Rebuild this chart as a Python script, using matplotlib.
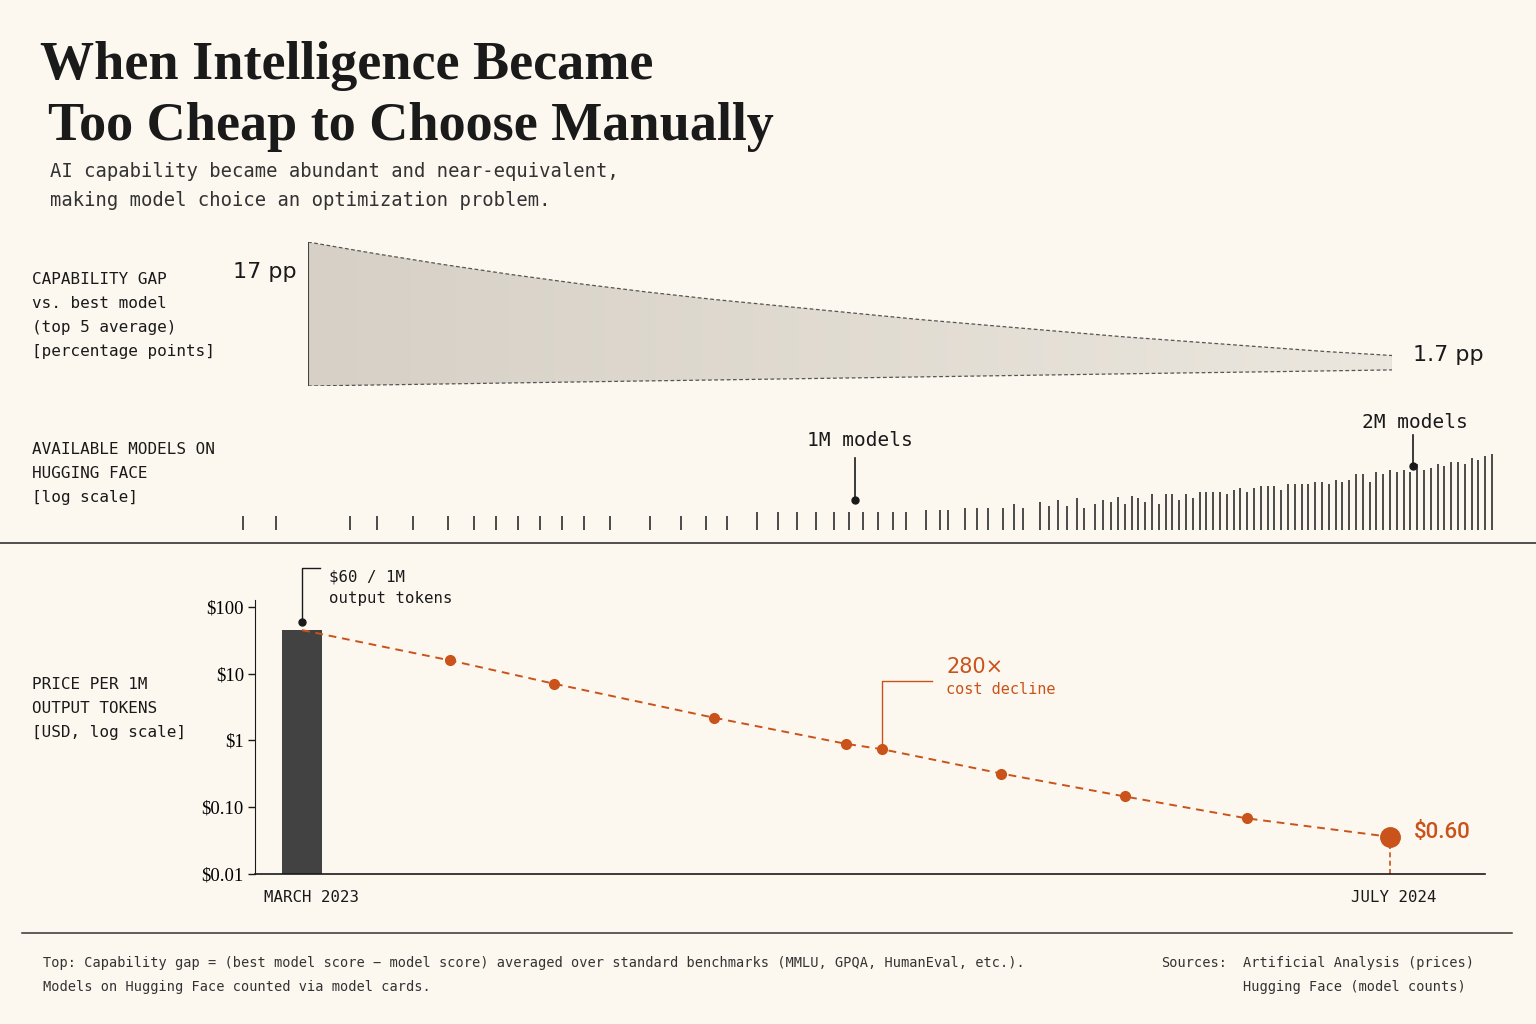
import numpy as np
import matplotlib
matplotlib.use("Agg")
import matplotlib.pyplot as plt
from matplotlib.patches import Polygon
from matplotlib.colors import LinearSegmentedColormap

# ---------------- data ----------------
gap_months = [0,1,2,3,4,5,6,7,8,9,10,11,12,13,14,15,16]
gap_pp = [17,15.5,14.1,12.8,11.6,10.5,9.5,8.6,7.7,6.8,6.0,5.2,4.4,3.7,3.0,2.3,1.7]
gap_lower = [0,0.12,0.24,0.36,0.48,0.6,0.71,0.83,0.95,1.07,1.19,1.31,1.43,1.55,1.66,1.78,1.9]

hf_months = [-0.87,-0.38,0.71,1.10,1.63,2.15,2.53,2.85,3.18,3.50,3.82,4.15,4.53,5.12,5.57,5.94,6.25,
             6.69,7.0,7.28,7.56,7.82,8.04,8.25,8.47,8.69,8.88,9.18,9.38,9.5,9.75,9.93,10.09,10.31,
             10.47,10.6,10.85,10.99,11.12,11.25,11.4,11.5,11.66,11.78,11.9,
             12.0,12.1,12.2,12.3,12.4,12.5,12.6,12.7,12.8,12.9,13.0,13.1,13.2,13.3,13.4,13.5,13.6,13.7,
             13.8,13.9,14.0,14.1,14.2,14.3,14.4,14.5,14.6,14.7,14.8,14.9,15.0,15.1,15.2,15.3,15.4,15.5,
             15.6,15.7,15.8,15.9,16.0,16.1,16.2,16.3,16.4,16.5,16.6,16.7,16.8,16.9,17.0,17.1,17.2,17.3,
             17.4,17.5]
hf_heights = [14]*17 + [18]*10 + [20,20,20,22,22,22,22] + [26,22,28,24,30,24,32,22,26,30,28] + \
    [33,26,34,32,28,36,26,36,36,30, 36,32,38,38,38,38,36,40,42,38,
     42,44,44,44,40,46,46,46,46,48, 48,46,50,48,50,56,56,48,58,56,
     60,58,60,58,66,60,62,66,64,68, 68,66,72,70,74,76]
hf_1m_month, hf_2m_month = 8.13, 16.34

price_months = [0, 2.18, 3.7, 6.06, 8.0, 8.53, 10.28, 12.1, 13.9, 16]
price_usd = [45, 15.8, 7.1, 2.19, 0.89, 0.74, 0.32, 0.145, 0.068, 0.036]
ytick_vals = [100, 10, 1, 0.1, 0.01]
ytick_labels = ["$100", "$10", "$1", "$0.10", "$0.01"]

BG = "#fcf8f0"
ORANGE = "#c9531a"
INK = "#1a1a1a"
MONO = "DejaVu Sans Mono"

W, H = 1536, 1024
fig = plt.figure(figsize=(15.36, 10.24), dpi=100, facecolor=BG)

def box(x0, y0, x1, y1):
    return [x0 / W, 1 - y1 / H, (x1 - x0) / W, (y1 - y0) / H]

ov = fig.add_axes([0, 0, 1, 1], zorder=5)
ov.set_xlim(0, W); ov.set_ylim(H, 0); ov.axis("off"); ov.patch.set_alpha(0)

# ---------------- titles ----------------
ov.text(40, 79, "When Intelligence Became", fontsize=39, fontweight="bold",
        family="Liberation Serif", color=INK, va="baseline")
ov.text(48, 140, "Too Cheap to Choose Manually", fontsize=39, fontweight="bold",
        family="Liberation Serif", color=INK, va="baseline")
ov.text(50, 186, "AI capability became abundant and near-equivalent,\nmaking model choice an optimization problem.",
        fontsize=13.6, family=MONO, color="#333333", va="center", linespacing=1.65)

# ---------------- capability gap ----------------
ax1 = fig.add_axes(box(308, 242, 1392, 386))
ax1.set_xlim(0, 16); ax1.set_ylim(0, 17); ax1.axis("off")
upper = [l + g for l, g in zip(gap_lower, gap_pp)]
verts = list(zip(gap_months, upper)) + list(zip(gap_months[::-1], gap_lower[::-1]))
poly = Polygon(verts, closed=True, facecolor="none", edgecolor="none")
ax1.add_patch(poly)
grad = np.linspace(0, 1, 256)[None, :]
cm = LinearSegmentedColormap.from_list("g", ["#d6d0c6", "#ece7de"])
im = ax1.imshow(grad, extent=[0, 16, 0, 17], aspect="auto", cmap=cm, origin="lower")
im.set_clip_path(poly)
ax1.plot(gap_months, upper, ls=(0, (3, 2)), color="#555555", lw=0.9)
ax1.plot(gap_months, gap_lower, ls=(0, (3, 2)), color="#555555", lw=0.9)
ax1.plot([0, 0], [gap_lower[0], upper[0]], color="#444444", lw=1.5)
ax1.plot([16, 16], [gap_lower[-1], upper[-1]], color="#888888", lw=0.8)
ov.text(233, 272, "17 pp", fontsize=16, color=INK, va="center")
ov.text(1413, 355, "1.7 pp", fontsize=16, color=INK, va="center")
ov.text(32, 272, "CAPABILITY GAP\nvs. best model\n(top 5 average)\n[percentage points]", fontsize=11.5,
        family=MONO, color=INK, va="top", linespacing=1.75)

# ---------------- hugging face ticks ----------------
ax2 = fig.add_axes(box(230, 440, 1500, 530))
ax2.set_xlim((230 - 302) / 68, (1500 - 302) / 68); ax2.set_ylim(0, 90); ax2.axis("off")
ax2.vlines(hf_months, 0, hf_heights, color="#3d3d3d", lw=1.3)
ax2.plot([hf_1m_month], [30], "o", color=INK, ms=5, clip_on=False)
ax2.plot([hf_2m_month], [64], "o", color=INK, ms=5, clip_on=False)
ax2.plot([hf_1m_month] * 2, [30, 72], color=INK, lw=1.2, clip_on=False)
ax2.plot([hf_2m_month] * 2, [64, 95], color=INK, lw=1.2, clip_on=False)
ov.text(860, 441, "1M models", fontsize=14, family=MONO, color=INK, ha="center", va="center")
ov.text(1415, 423, "2M models", fontsize=14, family=MONO, color=INK, ha="center", va="center")
ov.text(32, 442, "AVAILABLE MODELS ON\nHUGGING FACE\n[log scale]", fontsize=11.5, family=MONO,
        color=INK, va="top", linespacing=1.75)

ov.plot([0, W], [543, 543], color="#333333", lw=1.2)

# ---------------- price ----------------
ax3 = fig.add_axes(box(255, 600, 1485, 874))
ax3.set_facecolor("none")
ax3.set_yscale("log")
ax3.set_xlim((255 - 302) / 68, (1485 - 302) / 68)
ax3.set_ylim(0.01, 127)
ax3.bar([price_months[0]], [price_usd[0]], width=0.58, bottom=0.01, color="#424242", zorder=2)
ax3.plot(price_months, price_usd, ls=(0, (4, 3)), color=ORANGE, lw=1.4, zorder=3)
ax3.plot(price_months[1:-1], price_usd[1:-1], "o", color=ORANGE, ms=7, zorder=4)
ax3.plot(price_months[5], price_usd[5], "o", color=ORANGE, ms=5, zorder=5)
ax3.plot(price_months[-1], price_usd[-1], "o", color=ORANGE, ms=14, zorder=4)
ax3.plot([price_months[-1]] * 2, [0.01, price_usd[-1]], ls=(0, (3, 2)), color=ORANGE, lw=1.2)
ax3.set_yticks(ytick_vals)
ax3.set_yticklabels(ytick_labels, fontsize=13.5, family="Liberation Serif")
ax3.minorticks_off()
ax3.set_xticks([])
ax3.tick_params(axis="y", length=5, width=1, color=INK, pad=3)
for s in ["top", "right"]:
    ax3.spines[s].set_visible(False)
ax3.spines["left"].set_color(INK); ax3.spines["bottom"].set_color(INK)
ax3.spines["bottom"].set_linewidth(1.2)

ov.plot([302], [622], "o", color=INK, ms=5)
ov.plot([302, 302, 320], [622, 568, 568], color=INK, lw=1)
ov.text(329, 577, "$60 / 1M", fontsize=11.3, family=MONO, color=INK, va="center")
ov.text(329, 599, "output tokens", fontsize=11.3, family=MONO, color=INK, va="center")
ov.plot([882, 882, 932], [748, 681, 681], color=ORANGE, lw=1)
ov.text(946, 667, "280×", fontsize=15, color=ORANGE, va="center")
ov.text(946, 690, "cost decline", fontsize=11, family=MONO, color=ORANGE, va="center")
ov.text(1414, 832, "$0.60", fontsize=16, color=ORANGE, va="center", family="Roboto", fontweight="medium")
ov.text(312, 898, "MARCH 2023", fontsize=11.3, family=MONO, color=INK, ha="center", va="center")
ov.text(1394, 898, "JULY 2024", fontsize=11.3, family=MONO, color=INK, ha="center", va="center")
ov.text(32, 677, "PRICE PER 1M\nOUTPUT TOKENS\n[USD, log scale]", fontsize=11.5, family=MONO,
        color=INK, va="top", linespacing=1.75)

# ---------------- footer ----------------
FS = 9.85
ov.plot([22, 1512], [933, 933], color="#333333", lw=1.1)
ov.text(43, 963, "Top: Capability gap = (best model score − model score) averaged over standard benchmarks (MMLU, GPQA, HumanEval, etc.).",
        fontsize=FS, family=MONO, color="#333333", va="center")
ov.text(43, 987, "Models on Hugging Face counted via model cards.", fontsize=FS, family=MONO,
        color="#333333", va="center")
ov.text(1161, 963, "Sources:", fontsize=FS, family=MONO, color="#333333", va="center")
ov.text(1243, 963, "Artificial Analysis (prices)", fontsize=FS, family=MONO, color="#333333", va="center")
ov.text(1243, 987, "Hugging Face (model counts)", fontsize=FS, family=MONO, color="#333333", va="center")

fig.savefig("out.png", dpi=100, facecolor=BG)
